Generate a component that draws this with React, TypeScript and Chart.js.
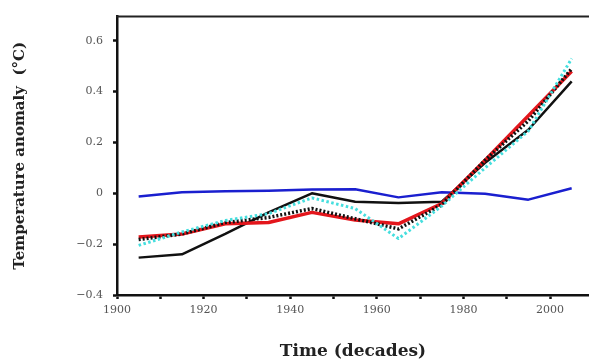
import React, { useEffect, useRef } from "react";
import { Chart, registerables } from "chart.js";

Chart.register(...registerables);

// ---- data ----
const years = [1905, 1915, 1925, 1935, 1945, 1955, 1965, 1975, 1985, 1995, 2005];
const cyanDotted = [-0.205, -0.152, -0.107, -0.08, -0.018, -0.06, -0.178, -0.05, 0.1, 0.245, 0.53];
const blackDotted = [-0.182, -0.16, -0.115, -0.095, -0.06, -0.1, -0.14, -0.045, 0.13, 0.285, 0.49];
const redSeries = [-0.172, -0.16, -0.12, -0.115, -0.075, -0.105, -0.12, -0.04, 0.13, 0.305, 0.48];
const blackSolid = [-0.253, -0.24, -0.16, -0.075, 0.0, -0.033, -0.038, -0.033, 0.12, 0.25, 0.44];
const blueSeries = [-0.013, 0.004, 0.008, 0.01, 0.015, 0.016, -0.016, 0.004, -0.002, -0.025, 0.02];

const xTickYears = [1900, 1910, 1920, 1930, 1940, 1950, 1960, 1970, 1980, 1990, 2000];
const xLabelYears = [1900, 1920, 1940, 1960, 1980, 2000];
const yTickValues = [-0.4, -0.2, 0, 0.2, 0.4, 0.6];
const yTickLabels = ["\u22120.4", "\u22120.2", "0", "0.2", "0.4", "0.6"];

const xTitle = "Time (decades)";
const yTitle = "Temperature anomaly  (\u00B0C)";

const toPoints = (vals: number[]) => vals.map((v, i) => ({ x: years[i], y: v }));

const topBorder = {
  id: "topBorder",
  afterDraw(chart: any) {
    const { ctx, chartArea } = chart;
    ctx.save();
    ctx.strokeStyle = "#222";
    ctx.lineWidth = 2;
    ctx.beginPath();
    ctx.moveTo(chartArea.left - 1, chartArea.top);
    ctx.lineTo(chartArea.right, chartArea.top);
    ctx.stroke();
    ctx.restore();
  },
};

export default function App() {
  const ref = useRef<HTMLCanvasElement | null>(null);

  useEffect(() => {
    if (!ref.current) return;
    const tickFont = { family: "DejaVu Serif", size: 11 };
    const chart = new Chart(ref.current, {
      type: "line",
      data: {
        datasets: [
          {
            label: "cyan",
            data: toPoints(cyanDotted),
            borderColor: "#45dede",
            borderWidth: 3,
            borderDash: [2.5, 2.5],
          },
          {
            label: "black dotted",
            data: toPoints(blackDotted),
            borderColor: "#111111",
            borderWidth: 3.5,
            borderDash: [2, 2],
          },
          {
            label: "red",
            data: toPoints(redSeries),
            borderColor: "#e3161c",
            borderWidth: 3.5,
          },
          {
            label: "black",
            data: toPoints(blackSolid),
            borderColor: "#111111",
            borderWidth: 2.5,
          },
          {
            label: "blue",
            data: toPoints(blueSeries),
            borderColor: "#1a1fcf",
            borderWidth: 2.5,
          },
        ],
      },
      options: {
        animation: false,
        responsive: false,
        devicePixelRatio: 1,
        layout: { padding: { top: 15, left: 0, right: 0, bottom: 0 } },
        elements: {
          point: { radius: 0, hoverRadius: 0 },
          line: { tension: 0, fill: false, borderCapStyle: "butt", borderJoinStyle: "round" },
        },
        plugins: {
          legend: { display: false },
          tooltip: { enabled: false },
        },
        scales: {
          x: {
            type: "linear",
            min: 1900,
            max: 2009,
            afterBuildTicks: (axis: any) => {
              axis.ticks = xTickYears.map((v) => ({ value: v }));
            },
            afterFit: (s: any) => {
              s.height = 65;
            },
            ticks: {
              autoSkip: false,
              maxRotation: 0,
              padding: 5,
              color: "#555",
              font: tickFont,
              callback: (v: any) => (xLabelYears.includes(Number(v)) ? String(v) : ""),
            },
            grid: {
              drawOnChartArea: false,
              drawTicks: true,
              tickLength: 4,
              tickColor: "#111",
              tickWidth: 2.5,
            },
            border: { display: true, color: "#111", width: 2.5 },
            title: {
              display: true,
              text: xTitle,
              color: "#222",
              font: { family: "DejaVu Serif", size: 17, weight: "bold", lineHeight: 1 },
              padding: { top: 0, bottom: 0 },
            },
          },
          y: {
            type: "linear",
            min: -0.4,
            max: 0.695,
            afterBuildTicks: (axis: any) => {
              axis.ticks = yTickValues.map((v) => ({ value: v }));
            },
            afterFit: (s: any) => {
              s.width = 117;
            },
            ticks: {
              padding: 10,
              color: "#555",
              font: tickFont,
              callback: (v: any) => {
                const idx = yTickValues.findIndex((t) => Math.abs(t - Number(v)) < 1e-9);
                return idx >= 0 ? yTickLabels[idx] : "";
              },
            },
            grid: {
              drawOnChartArea: false,
              drawTicks: true,
              tickLength: 4,
              tickColor: "#111",
              tickWidth: 2.5,
            },
            border: { display: true, color: "#111", width: 2.5 },
            title: {
              display: true,
              text: yTitle,
              color: "#222",
              font: { family: "DejaVu Serif", size: 15, weight: "bold", lineHeight: 1.2 },
              padding: { top: 11, bottom: 0 },
            },
          },
        },
      },
      plugins: [topBorder],
    } as any);
    return () => chart.destroy();
  }, []);

  return (
    <div style={{ position: "absolute", left: 0, top: 0, width: 589, height: 360, background: "#fff" }}>
      <canvas ref={ref} width={589} height={360} style={{ display: "block" }} />
    </div>
  );
}
